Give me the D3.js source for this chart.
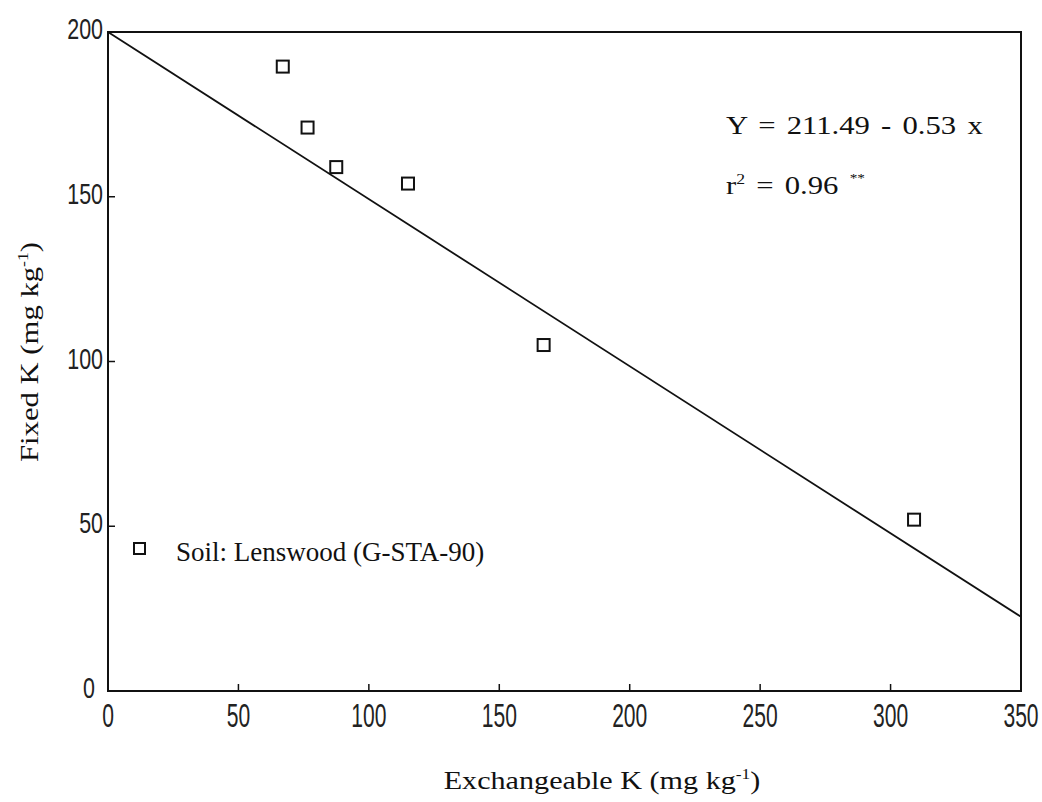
<!DOCTYPE html>
<html lang="en">
<head>
    <meta charset="UTF-8">
    <title>Fixed K vs Exchangeable K</title>
    <script src="https://d3js.org/d3.v7.min.js"></script>
    <style>
        body { margin: 0; background: #fff; }
        .tick-label {
            font-family: "Liberation Sans", "DejaVu Sans", sans-serif;
            font-weight: normal;
            fill: #222;
        }
        .serif {
            font-family: "Liberation Serif", "DejaVu Serif", serif;
            fill: #111;
        }
    </style>
</head>
<body>
    <svg id="chart"></svg>

    <script>
        // observed points (Exchangeable K, Fixed K)
        const exchK = [67, 76.5, 87.5, 115, 167, 309];
        const fixedK = [189.5, 171, 159, 154, 105, 52];
        // regression line as drawn on the figure
        const lineX = [0, 350];
        const lineY = [200, 22.5];
        const xTicks = [0, 50, 100, 150, 200, 250, 300, 350];
        const yTicks = [0, 50, 100, 150, 200];

        const width = 1042, height = 802;
        const margin = { top: 32, right: 21, bottom: 111, left: 108 };

        const svg = d3.select("#chart")
            .attr("width", width)
            .attr("height", height);

        const x = d3.scaleLinear().domain([0, 350]).range([margin.left, width - margin.right]);
        const y = d3.scaleLinear().domain([0, 200]).range([height - margin.bottom, margin.top]);

        // frame
        svg.append("rect")
            .attr("x", x(0))
            .attr("y", y(200))
            .attr("width", x(350) - x(0))
            .attr("height", y(0) - y(200))
            .attr("fill", "none")
            .attr("stroke", "#111")
            .attr("stroke-width", 2);

        // inward ticks
        svg.selectAll(".xtick")
            .data(xTicks.filter(d => d > 0 && d < 350))
            .enter().append("line")
            .attr("x1", d => x(d)).attr("x2", d => x(d))
            .attr("y1", y(0)).attr("y2", y(0) - 7)
            .attr("stroke", "#111").attr("stroke-width", 1.5);

        svg.selectAll(".ytick")
            .data(yTicks.filter(d => d > 0 && d < 200))
            .enter().append("line")
            .attr("x1", x(0)).attr("x2", x(0) + 7)
            .attr("y1", d => y(d)).attr("y2", d => y(d))
            .attr("stroke", "#111").attr("stroke-width", 1.5);

        // tick labels (condensed by squeezing horizontally)
        svg.selectAll(".xlab")
            .data(xTicks)
            .enter().append("text")
            .attr("class", "tick-label")
            .attr("font-size", 34)
            .attr("text-anchor", "middle")
            .attr("transform", d => "translate(" + x(d) + "," + (y(0) + 36) + ") scale(0.62,1)")
            .text(d => d);

        svg.selectAll(".ylab")
            .data(yTicks)
            .enter().append("text")
            .attr("class", "tick-label")
            .attr("font-size", 29)
            .attr("text-anchor", "end")
            .attr("transform", d => "translate(" + (d === 0 ? x(0) - 13 : x(0) - 5) + "," + (y(d) + 7) + ") scale(0.74,1)")
            .text(d => d);

        // regression line
        const line = d3.line().x(d => x(d[0])).y(d => y(d[1]));
        svg.append("path")
            .datum(d3.zip(lineX, lineY))
            .attr("d", line)
            .attr("fill", "none")
            .attr("stroke", "#111")
            .attr("stroke-width", 1.8);

        // markers
        svg.selectAll(".pt")
            .data(d3.zip(exchK, fixedK))
            .enter().append("rect")
            .attr("x", d => x(d[0]) - 6)
            .attr("y", d => y(d[1]) - 6)
            .attr("width", 12)
            .attr("height", 12)
            .attr("fill", "#fff")
            .attr("stroke", "#111")
            .attr("stroke-width", 2);

        // legend
        svg.append("rect")
            .attr("x", 134).attr("y", 543)
            .attr("width", 11).attr("height", 11)
            .attr("fill", "#fff").attr("stroke", "#111").attr("stroke-width", 2);
        svg.append("text")
            .attr("class", "serif")
            .attr("transform", "translate(176,561)")
            .attr("font-size", 27)
            .text("Soil: Lenswood (G-STA-90)");

        // equation
        svg.append("text")
            .attr("class", "serif")
            .attr("transform", "translate(726,134) scale(1.18,1)")
            .attr("font-size", 26)
            .attr("word-spacing", 3)
            .text("Y = 211.49 - 0.53 x");

        const r2 = svg.append("text")
            .attr("class", "serif")
            .attr("transform", "translate(726,194) scale(1.18,1)")
            .attr("font-size", 26)
            .attr("word-spacing", 3);
        r2.append("tspan").text("r");
        r2.append("tspan").attr("font-size", 15).attr("dy", -10).text("2");
        r2.append("tspan").attr("dy", 10).text(" = 0.96 ");
        r2.append("tspan").attr("font-size", 13).attr("dy", -12).text("**");

        // axis titles
        const xt = svg.append("text")
            .attr("class", "serif")
            .attr("transform", "translate(602,789) scale(1.16,1)")
            .attr("text-anchor", "middle")
            .attr("font-size", 26);
        xt.append("tspan").text("Exchangeable K (mg kg");
        xt.append("tspan").attr("font-size", 15).attr("dy", -10).text("-1");
        xt.append("tspan").attr("dy", 10).text(")");

        const yt = svg.append("text")
            .attr("class", "serif")
            .attr("transform", "translate(38,352) rotate(-90) scale(1.18,1)")
            .attr("text-anchor", "middle")
            .attr("font-size", 26);
        yt.append("tspan").text("Fixed K (mg kg");
        yt.append("tspan").attr("font-size", 15).attr("dy", -10).text("-1");
        yt.append("tspan").attr("dy", 10).text(")");
    </script>
</body>
</html>
